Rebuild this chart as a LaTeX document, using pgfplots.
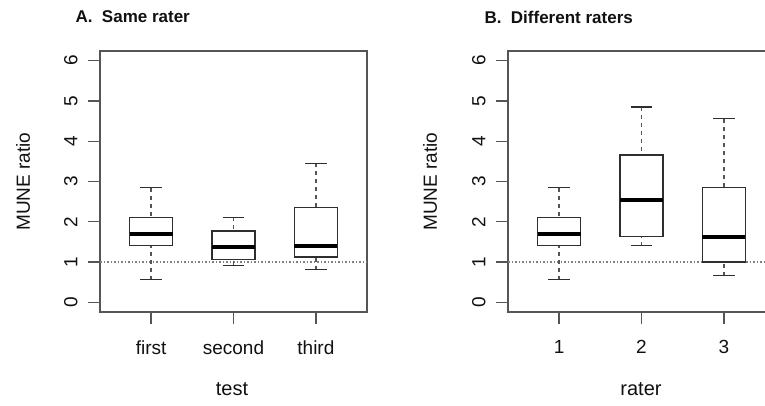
\documentclass[border=0pt]{standalone}
\usepackage{pgfplots}
\pgfplotsset{compat=1.18}
\usepgfplotslibrary{statistics}
\usepackage{fontspec}
\setmainfont{Liberation Sans}
\definecolor{framec}{HTML}{555555}
\definecolor{boxc}{HTML}{2E2E2E}
\definecolor{whc}{HTML}{555555}
\definecolor{txtc}{HTML}{111111}
\pgfplotsset{
  mybox/.style={
    scale only axis, width=267pt, height=261pt,
    xmin=0.38, xmax=3.62, ymin=-0.24, ymax=6.24,
    xtick={1,2,3}, ytick={0,1,2,3,4,5,6},
    tick align=outside, major tick length=12pt,
    xtick pos=left, ytick pos=left,
    axis line style={framec, line width=1.4pt},
    major tick style={framec, line width=1.4pt},
    ticklabel style={font=\fontsize{19}{22}\selectfont, text=txtc},
    xticklabel style={yshift=-13pt},
    yticklabel style={xshift=-7pt, rotate=90, anchor=south},
    /pgf/number format/assume math mode=true,
    boxplot/draw direction=y,
    boxplot/box extend=0.52,
    boxplot/whisker extend=0.26,
    boxplot/every box/.style={draw=boxc, line width=1.5pt},
    boxplot/every median/.style={draw=black, line width=4pt},
    boxplot/draw/lower whisker/.code={
      \draw[whc, line width=1.4pt, dash pattern=on 4pt off 4pt]
        (boxplot box cs:\pgfplotsboxplotvalue{lower whisker},0.5) --
        (boxplot box cs:\pgfplotsboxplotvalue{lower quartile},0.5);
      \draw[boxc, line width=1.4pt]
        (boxplot whisker cs:\pgfplotsboxplotvalue{lower whisker},0) --
        (boxplot whisker cs:\pgfplotsboxplotvalue{lower whisker},1);
    },
    boxplot/draw/upper whisker/.code={
      \draw[whc, line width=1.4pt, dash pattern=on 4pt off 4pt]
        (boxplot box cs:\pgfplotsboxplotvalue{upper whisker},0.5) --
        (boxplot box cs:\pgfplotsboxplotvalue{upper quartile},0.5);
      \draw[boxc, line width=1.4pt]
        (boxplot whisker cs:\pgfplotsboxplotvalue{upper whisker},0) --
        (boxplot whisker cs:\pgfplotsboxplotvalue{upper whisker},1);
    },
  }
}
\begin{document}
\begin{tikzpicture}[x=1pt,y=1pt]
\clip (0,0) rectangle (765,405);
\fill[white] (0,0) rectangle (765,405);
% Panel A
\begin{axis}[mybox, at={(100pt,93pt)}, anchor=south west,
  xticklabels={first,second,third}]
  \addplot[gray, line width=1.2pt, dash pattern=on 1.5pt off 2pt] coordinates {(0.38,1) (3.62,1)};
  \addplot[boxplot prepared={lower whisker=0.56, lower quartile=1.41, median=1.70, upper quartile=2.11, upper whisker=2.85, draw position=1}] coordinates {};
  \addplot[boxplot prepared={lower whisker=0.92, lower quartile=1.06, median=1.37, upper quartile=1.77, upper whisker=2.11, draw position=2}] coordinates {};
  \addplot[boxplot prepared={lower whisker=0.81, lower quartile=1.12, median=1.40, upper quartile=2.36, upper whisker=3.45, draw position=3}] coordinates {};
\end{axis}
% Panel B
\begin{axis}[mybox, at={(508pt,93pt)}, anchor=south west,
  xticklabels={1,2,3}]
  \addplot[gray, line width=1.2pt, dash pattern=on 1.5pt off 2pt] coordinates {(0.38,1) (3.62,1)};
  \addplot[boxplot prepared={lower whisker=0.56, lower quartile=1.41, median=1.70, upper quartile=2.11, upper whisker=2.85, draw position=1}] coordinates {};
  \addplot[boxplot prepared={lower whisker=1.41, lower quartile=1.64, median=2.54, upper quartile=3.66, upper whisker=4.85, draw position=2}] coordinates {};
  \addplot[boxplot prepared={lower whisker=0.66, lower quartile=1.00, median=1.61, upper quartile=2.85, upper whisker=4.56, draw position=3}] coordinates {};
\end{axis}
% Titles and labels
\node[anchor=west, text=txtc, font=\bfseries\fontsize{17}{20}\selectfont] at (72,388) {A.\ \ Same rater};
\node[anchor=west, text=txtc, font=\bfseries\fontsize{17}{20}\selectfont] at (481,388) {B.\ \ Different raters};
\node[rotate=90, text=txtc, font=\fontsize{19}{22}\selectfont] at (23,223.5) {MUNE ratio};
\node[rotate=90, text=txtc, font=\fontsize{19}{22}\selectfont] at (430,223.5) {MUNE ratio};
\node[text=txtc, font=\fontsize{20}{23}\selectfont] at (232,16) {test};
\node[text=txtc, font=\fontsize{20}{23}\selectfont] at (641,16) {rater};
\end{tikzpicture}
\end{document}
